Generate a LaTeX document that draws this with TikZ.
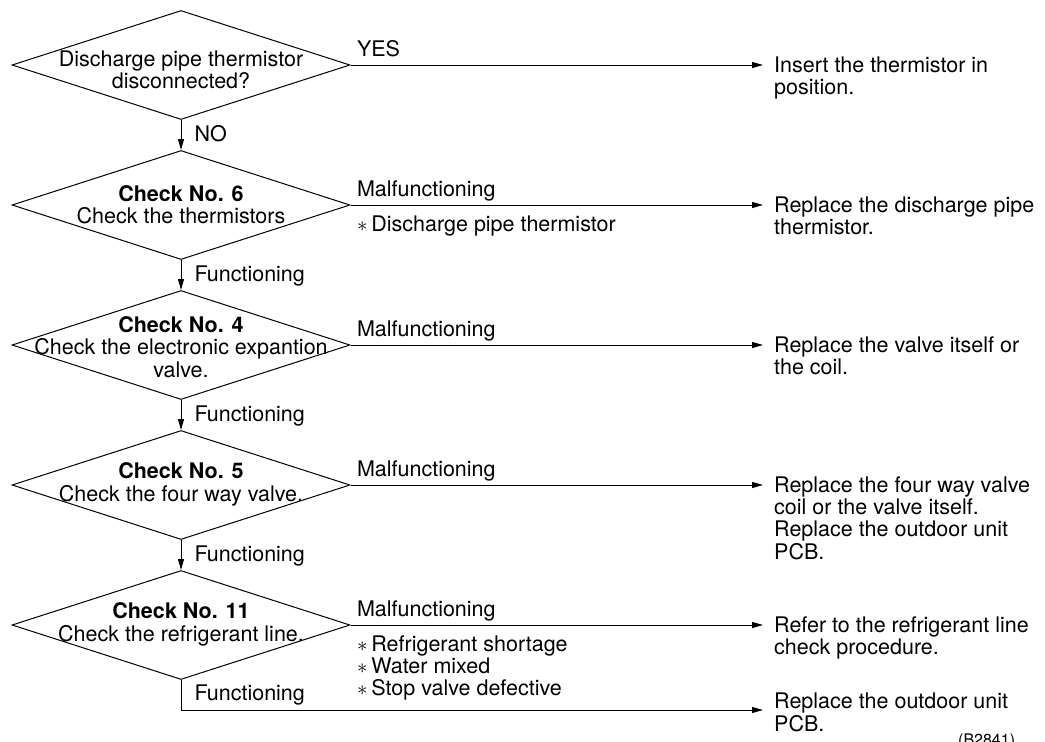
\documentclass[tikz,border=0pt]{standalone}
\usepackage{fontspec}
\setmainfont{TeX Gyre Heros}
\usetikzlibrary{
  shapes.geometric,
  positioning,
  arrows.meta
}

\newcommand{\declines}[2][0pt]{\makebox[0pt]{\raisebox{-#1}[\height][\depth]{\begin{tabular}{@{}c@{}}#2\end{tabular}}}}
\newcommand{\actlines}[1]{\begin{tabular}[t]{@{}l@{}}#1\end{tabular}}
\newcommand{\causemark}{$\ast$\hspace{4pt}}

\tikzset{
  decision/.style={diamond, draw, line width=1pt, minimum width=338pt,
    minimum height=109pt, inner sep=0pt},
  flow/.style={line width=1pt, -{Triangle[length=11pt,width=6pt]}},
  action/.style={anchor=base west, inner sep=0pt, xshift=11pt, yshift=-7.5pt},
  branch/.style={anchor=base west, inner sep=0pt, xshift=6pt, yshift=9pt},
  cause/.style={anchor=base west, inner sep=0pt, xshift=6pt, yshift=-26pt},
  answer/.style={anchor=base west, inner sep=0pt, xshift=13pt, yshift=-6pt}
}

\begin{document}
\begin{tikzpicture}[x=1pt, y=-1pt, node distance=30pt,
    font=\fontsize{21.5}{21.7}\selectfont]
  \useasboundingbox (0,0) rectangle (1045,742);
  \coordinate (col) at (763,0);
  \node[decision] (d1) at (181,65) {\declines[8pt]{Discharge pipe thermistor\\disconnected?}};
  \node[decision, below=of d1] (d2) {\declines[3pt]{\textbf{Check No. 6}\\Check the thermistors}};
  \node[decision, below=of d2] (d3) {\declines[5pt]{\textbf{Check No. 4}\\Check the electronic expantion\\valve.}};
  \node[decision, below=of d3] (d4) {\declines{\textbf{Check No. 5}\\Check the four way valve.}};
  \node[decision, below=of d4] (d5) {\declines{\textbf{Check No. 11}\\Check the refrigerant line.}};
  \coordinate (fin) at (d5.south |- 0,710);

  \node[action] (a1) at (d1.east -| col) {\actlines{Insert the thermistor in\\position.}};
  \node[action] (a2) at (d2.east -| col) {\actlines{Replace the discharge pipe\\thermistor.}};
  \node[action] (a3) at (d3.east -| col) {\actlines{Replace the valve itself or\\the coil.}};
  \node[action] (a4) at (d4.east -| col) {\actlines{Replace the four way valve\\coil or the valve itself.\\Replace the outdoor unit\\PCB.}};
  \node[action] (a5) at (d5.east -| col) {\actlines{Refer to the refrigerant line\\check procedure.}};
  \node[action, yshift=9pt] (a6) at (fin -| col) {\actlines{Replace the outdoor unit\\PCB.}};

  \draw[flow, shorten >=11pt] (d1.east) -- node[branch, pos=0] (yes) {YES} (d1.east -| a1.west);
  \draw[flow, shorten >=11pt] (d2.east) -- node[branch, pos=0] (m2) {Malfunctioning}
    node[cause, pos=0] (c2) {\actlines{\causemark Discharge pipe thermistor}} (d2.east -| a2.west);
  \draw[flow, shorten >=11pt] (d3.east) -- node[branch, pos=0] (m3) {Malfunctioning} (d3.east -| a3.west);
  \draw[flow, shorten >=11pt] (d4.east) -- node[branch, pos=0] (m4) {Malfunctioning} (d4.east -| a4.west);
  \draw[flow, shorten >=11pt] (d5.east) -- node[branch, pos=0] (m5) {Malfunctioning}
    node[cause, pos=0] (c5) {\actlines{\causemark Refrigerant shortage\\\causemark Water mixed\\\causemark Stop valve defective}} (d5.east -| a5.west);

  \draw[flow] (d1) -- node[answer, midway] (no) {NO} (d2);
  \draw[flow] (d2) -- node[answer, midway] (f2) {Functioning} (d3);
  \draw[flow] (d3) -- node[answer, midway] (f3) {Functioning} (d4);
  \draw[flow] (d4) -- node[answer, midway] (f4) {Functioning} (d5);
  \draw[flow, shorten >=11pt] (d5.south) -- (fin)
    node[answer, yshift=16pt] (f5) {Functioning} -- (fin -| a6.west);

  \node[anchor=base west, inner sep=0pt, font=\fontsize{16}{16}\selectfont] (ref) at (958,745) {(B2841)};
\end{tikzpicture}
\end{document}
